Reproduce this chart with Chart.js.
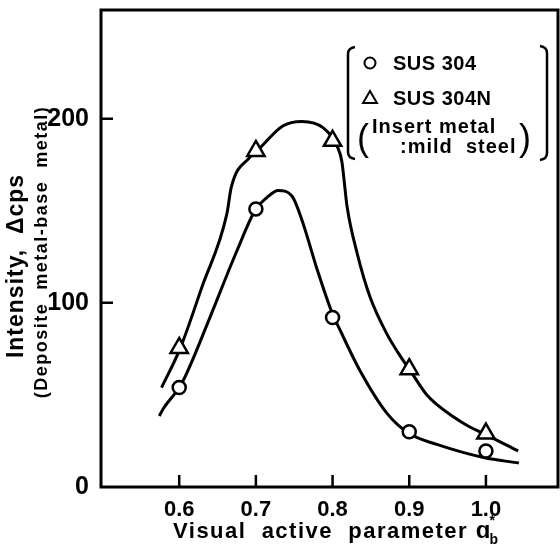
<!DOCTYPE html>
<html>
<head>
<meta charset="utf-8">
<script src="https://cdn.jsdelivr.net/npm/chart.js@4.4.1/dist/chart.umd.min.js"></script>
<style>
html,body{margin:0;padding:0;background:#fff;}
#wrap{width:560px;height:555px;}
</style>
</head>
<body>
<div id="wrap"><canvas id="c" width="560" height="555"></canvas></div>
<script>
// ---- data ----
const xTickValues = [0.6, 0.7, 0.8, 0.9, 1.0];
const xTickLabels = ['0.6', '0.7', '0.8', '0.9', '1.0'];
const yTickValues = [0, 100, 200];
const yTickLabels = ['0', '100', '200'];

const sampleX = [0.6, 0.7, 0.8, 0.9, 1.0];
const sus304 = [54, 151, 92, 30, 19.5];
const sus304N = [75.5, 182.5, 188, 64, 29];

// hand-drawn fitted curves
const curve304X = [0.574, 0.580, 0.600, 0.610, 0.640, 0.675, 0.700, 0.714, 0.729, 0.747, 0.760, 0.780, 0.799, 0.810, 0.836, 0.871, 0.900, 0.937, 0.997, 1.043];
const curve304Y = [38.6, 43, 54, 62, 92, 128, 151, 157, 161, 158, 145, 118, 95, 85, 63, 40, 29, 23, 16, 13];
const curve304NX = [0.577, 0.601, 0.630, 0.662, 0.668, 0.692, 0.705, 0.735, 0.760, 0.788, 0.806, 0.812, 0.819, 0.832, 0.849, 0.871, 0.890, 0.900, 0.923, 0.958, 0.979, 0.997, 1.042];
const curve304NY = [54, 75, 109, 148, 163, 179, 184, 196, 198.5, 195, 185, 177, 152, 127, 103, 83, 70, 64, 50, 38, 32.6, 29, 19.6];

const xMin = 0.498, xMax = 1.094;
const yMin = 0, yMax = 259;

const seriesNames = ['SUS 304', 'SUS 304N'];
const legendNote = ['Insert metal', ':mild  steel'];
const xTitle = 'Visual  active  parameter';
const xTitleSymbol = 'ɑ';
const xTitleSub = 'b';
const xTitleSup = '*';
const yTitle = 'Intensity,  Δcps';
const ySubTitle = '(Deposite  metal-base  metal)';

const FONT = "'Liberation Sans', Arial, sans-serif";

const pts = (xs, ys) => xs.map((x, i) => ({x: x, y: ys[i]}));

const decor = {
  id: 'decor',
  afterDraw(chart) {
    const ctx = chart.ctx;
    const a = chart.chartArea;
    const xs = chart.scales.x, ys = chart.scales.y;
    ctx.save();
    ctx.strokeStyle = '#000';
    ctx.fillStyle = '#000';
    // frame
    ctx.lineWidth = 3;
    ctx.strokeRect(a.left, a.top, a.right - a.left, a.bottom - a.top);
    // inward ticks
    ctx.lineWidth = 2.5;
    ctx.beginPath();
    xTickValues.forEach(v => {
      const px = xs.getPixelForValue(v);
      ctx.moveTo(px, a.bottom);
      ctx.lineTo(px, a.bottom - 12);
    });
    yTickValues.forEach(v => {
      if (v === yMin) return;
      const py = ys.getPixelForValue(v);
      ctx.moveTo(a.left, py);
      ctx.lineTo(a.left + 12, py);
    });
    ctx.stroke();

    // y titles
    ctx.save();
    ctx.translate(17, 266);
    ctx.rotate(-Math.PI / 2);
    ctx.textAlign = 'center';
    ctx.textBaseline = 'middle';
    ctx.font = 'bold 23px ' + FONT;
    ctx.letterSpacing = '1px';
    ctx.fillText(yTitle, 0, 0);
    ctx.restore();
    ctx.save();
    ctx.translate(42, 252);
    ctx.rotate(-Math.PI / 2);
    ctx.textAlign = 'center';
    ctx.textBaseline = 'middle';
    ctx.font = 'bold 18px ' + FONT;
    ctx.letterSpacing = '1.5px';
    ctx.fillText(ySubTitle, 0, 0);
    ctx.restore();

    // x title
    ctx.save();
    ctx.textAlign = 'left';
    ctx.textBaseline = 'alphabetic';
    ctx.font = 'bold 22px ' + FONT;
    ctx.letterSpacing = '1.5px';
    const tx = 173, ty = 538;
    ctx.fillText(xTitle, tx, ty);
    const w = ctx.measureText(xTitle + ' ').width;
    ctx.letterSpacing = '0px';
    ctx.font = 'bold 24px ' + FONT;
    ctx.fillText(xTitleSymbol, tx + w, ty);
    const w2 = ctx.measureText(xTitleSymbol).width;
    ctx.font = 'bold 14px ' + FONT;
    ctx.fillText(xTitleSub, tx + w + w2 - 1, ty + 6);
    ctx.fillText(xTitleSup, tx + w + w2 - 1, ty - 13);
    ctx.restore();

    // legend block
    ctx.save();
    ctx.lineWidth = 2.5;
    ctx.beginPath();
    // left bracket
    ctx.moveTo(355, 47);
    ctx.quadraticCurveTo(348, 48, 348, 54);
    ctx.lineTo(348, 152);
    ctx.quadraticCurveTo(348, 158, 355, 159);
    // right bracket
    ctx.moveTo(540, 46);
    ctx.quadraticCurveTo(547, 47, 547, 53);
    ctx.lineTo(547, 153);
    ctx.quadraticCurveTo(547, 159, 540, 160);
    ctx.stroke();

    ctx.lineWidth = 2;
    ctx.fillStyle = '#fff';
    Chart.helpers.drawPoint(ctx, {pointStyle: 'circle', radius: 5.5, borderWidth: 2}, 370, 63);
    Chart.helpers.drawPoint(ctx, {pointStyle: 'triangle', radius: 8, borderWidth: 2}, 370, 99);
    ctx.fillStyle = '#000';
    ctx.font = 'bold 20px ' + FONT;
    ctx.letterSpacing = '0.5px';
    ctx.textBaseline = 'alphabetic';
    ctx.textAlign = 'left';
    ctx.fillText(seriesNames[0], 393, 70);
    ctx.fillText(seriesNames[1], 393, 105);
    ctx.letterSpacing = '1px';
    ctx.fillText(legendNote[0], 372, 133);
    ctx.fillText(legendNote[1], 400, 153);
    ctx.letterSpacing = '0px';
    ctx.font = '36px ' + FONT;
    ctx.fillText('(', 357, 150);
    ctx.fillText(')', 519, 150);
    ctx.restore();

    ctx.restore();
  }
};

const markerBase = {
  showLine: false,
  borderColor: '#000',
  backgroundColor: '#fff',
  pointBorderColor: '#000',
  pointBackgroundColor: '#fff',
  pointBorderWidth: 2.5
};
const curveBase = {
  showLine: true,
  borderColor: '#000',
  borderWidth: 3,
  pointRadius: 0,
  fill: false,
  cubicInterpolationMode: 'monotone'
};

const zeroPad = s => { s.paddingTop = 0; s.paddingBottom = 0; s.paddingLeft = 0; s.paddingRight = 0; };

new Chart(document.getElementById('c'), {
  type: 'line',
  data: {
    datasets: [
      Object.assign({label: seriesNames[0], data: pts(sampleX, sus304), pointStyle: 'circle', pointRadius: 6.5}, markerBase),
      Object.assign({label: seriesNames[1], data: pts(sampleX, sus304N), pointStyle: 'triangle', pointRadius: 10}, markerBase),
      Object.assign({label: seriesNames[0] + ' curve', data: pts(curve304X, curve304Y)}, curveBase),
      Object.assign({label: seriesNames[1] + ' curve', data: pts(curve304NX, curve304NY)}, curveBase)
    ]
  },
  options: {
    responsive: false,
    animation: false,
    devicePixelRatio: 1,
    layout: {autoPadding: false, padding: {top: 10, right: 2, left: 0, bottom: 0}},
    plugins: {legend: {display: false}, tooltip: {enabled: false}},
    scales: {
      x: {
        type: 'linear',
        min: xMin, max: xMax,
        grid: {display: false},
        border: {display: false},
        afterBuildTicks: s => { s.ticks = xTickValues.map(v => ({value: v})); },
        ticks: {
          callback: (v, i) => xTickLabels[i],
          font: {family: FONT, size: 22, weight: 'bold'},
          color: '#000',
          padding: 2,
          maxRotation: 0,
          autoSkip: false
        },
        afterFit: s => { s.height = 68; zeroPad(s); }
      },
      y: {
        type: 'linear',
        min: yMin, max: yMax,
        grid: {display: false},
        border: {display: false},
        afterBuildTicks: s => { s.ticks = yTickValues.map(v => ({value: v})); },
        ticks: {
          callback: (v, i) => yTickLabels[i],
          font: {family: FONT, size: 25, weight: 'bold'},
          color: '#000',
          padding: 4,
          autoSkip: false
        },
        afterFit: s => { s.width = 101; zeroPad(s); }
      }
    }
  },
  plugins: [decor]
});
</script>
</body>
</html>
